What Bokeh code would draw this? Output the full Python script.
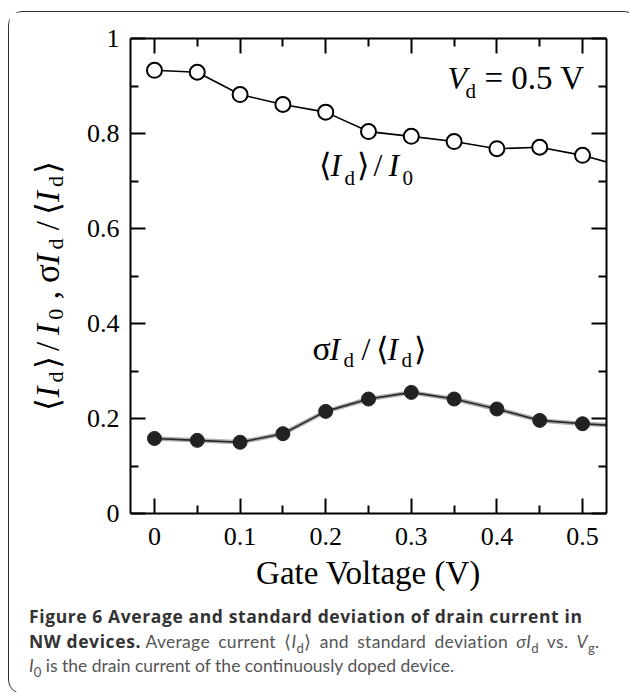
import math
from bokeh.plotting import figure
from bokeh.models import Range1d, FixedTicker, LinearAxis, Label, Div
from bokeh.layouts import column, row
from bokeh.embed import file_html
from bokeh.resources import INLINE

# ---------------- data ----------------
gate_voltage = [0.00, 0.05, 0.10, 0.15, 0.20, 0.25, 0.30, 0.35, 0.40, 0.45, 0.50]
mean_over_i0 = [0.933, 0.929, 0.882, 0.861, 0.845, 0.804, 0.794, 0.783, 0.768, 0.771, 0.754]
sigma_over_mean = [0.158, 0.154, 0.150, 0.168, 0.215, 0.241, 0.255, 0.241, 0.220, 0.196, 0.189]
# the two traces continue past the right edge of the frame
gate_voltage_next = [0.55]
mean_over_i0_next = [0.729]
sigma_over_mean_next = [0.184]

x_ticks = [0.0, 0.1, 0.2, 0.3, 0.4, 0.5]
x_tick_labels = ["0", "0.1", "0.2", "0.3", "0.4", "0.5"]
x_minor = [0.05, 0.15, 0.25, 0.35, 0.45]
y_ticks = [0.0, 0.2, 0.4, 0.6, 0.8, 1.0]
y_tick_labels = ["0", "0.2", "0.4", "0.6", "0.8", "1"]
y_minor = [0.1, 0.3, 0.5, 0.7, 0.9]

x_title = "Gate Voltage (V)"

# ---------------- layout constants (page pixels) ----------------
X0, X1 = -0.028, 0.528
Y0, Y1 = 0.0, 1.0
FRAME_L, FRAME_R, FRAME_T, FRAME_B = 130, 606, 38, 513
ORIGIN_X, ORIGIN_Y = 9, 12          # top-left of content inside the rounded box
YLAB_W = 70
MAIN_W, MAIN_H = 548, 593
SERIF = "Liberation Serif"

# ---------------- main plot ----------------
main_left = ORIGIN_X + YLAB_W
p = figure(width=MAIN_W, height=MAIN_H, x_range=Range1d(X0, X1), y_range=Range1d(Y0, Y1),
           output_backend="svg", toolbar_location=None,
           min_border_left=FRAME_L - main_left,
           min_border_right=main_left + MAIN_W - FRAME_R,
           min_border_top=FRAME_T - ORIGIN_Y,
           min_border_bottom=MAIN_H - (FRAME_B - ORIGIN_Y))
p.xgrid.visible = False
p.ygrid.visible = False
p.outline_line_color = None
p.background_fill_color = "white"
p.border_fill_color = "white"

p.add_layout(LinearAxis(), "above")
p.add_layout(LinearAxis(), "right")

for ax in p.xaxis:
    ax.ticker = FixedTicker(ticks=x_ticks, minor_ticks=x_minor)
    ax.major_label_overrides = {t: s for t, s in zip(x_ticks, x_tick_labels)}
for ax in p.yaxis:
    ax.ticker = FixedTicker(ticks=y_ticks, minor_ticks=y_minor)
    ax.major_label_overrides = {t: s for t, s in zip(y_ticks, y_tick_labels)}

for ax in list(p.xaxis) + list(p.yaxis):
    ax.axis_line_width = 2
    ax.axis_line_color = "black"
    ax.major_tick_in = 15
    ax.major_tick_out = 0
    ax.minor_tick_in = 8
    ax.minor_tick_out = 0
    ax.major_tick_line_width = 2
    ax.minor_tick_line_width = 2
    ax.major_tick_line_color = "black"
    ax.minor_tick_line_color = "black"
    ax.major_label_text_font = SERIF
    ax.major_label_text_font_size = "26px"
    ax.major_label_text_color = "black"

# mirrored axes: ticks only
for ax in (p.above[0], p.right[0]):
    ticks = x_ticks if ax in p.above else y_ticks
    ax.major_label_overrides = {t: "" for t in ticks}
    ax.major_label_text_font_size = "1px"
    ax.major_label_standoff = 0

bottom = p.below[0]
bottom.major_label_standoff = 14
bottom.axis_label = x_title
bottom.axis_label_text_font = SERIF
bottom.axis_label_text_font_size = "33px"
bottom.axis_label_text_font_style = "normal"
bottom.axis_label_text_color = "black"
bottom.axis_label_standoff = 7
p.left[0].major_label_standoff = 11

# ---------------- series ----------------
line_x = gate_voltage + gate_voltage_next
p.line(line_x, mean_over_i0 + mean_over_i0_next, line_color="black", line_width=1.6)
p.line(line_x, sigma_over_mean + sigma_over_mean_next, line_color="#9a9a9a", line_width=4.5, line_alpha=0.8)
p.line(line_x, sigma_over_mean + sigma_over_mean_next, line_color="#262626", line_width=1.6)

p.scatter(gate_voltage, mean_over_i0, marker="circle", size=15,
          fill_color="white", line_color="black", line_width=2)
p.scatter(gate_voltage, sigma_over_mean, marker="circle", size=14,
          fill_color="#222222", line_color="#222222", line_width=1)

# ---------------- rich text helpers ----------------
def dx(px):
    return X0 + (px - FRAME_L) * (X1 - X0) / (FRAME_R - FRAME_L)

def dy(py):
    return Y0 + (FRAME_B - py) * (Y1 - Y0) / (FRAME_B - FRAME_T)

def label(fig, text, x, y, size, italic=False, angle=0.0):
    fig.add_layout(Label(x=x, y=y, text=text, text_font=SERIF,
                         text_font_size=f"{size}px",
                         text_font_style="italic" if italic else "normal",
                         text_align="left", text_baseline="middle",
                         text_color="black", angle=angle))

MAIN, SUB, SIG = 32, 21, 34
MID = 0.33   # glyph centre above the baseline, in em

# (text, offset along the line, italic, subscript)
mean_label = [("⟨", 0, False, False), ("I", 12, True, False), ("d", 26, False, True),
              ("⟩", 38, False, False), ("/", 55, False, False), ("I", 70, True, False),
              ("0", 84, False, True)]
sigma_label = [("σ", 0, False, False), ("I", 17, True, False), ("d", 31, False, True),
               ("/", 49, False, False), ("⟨", 63, False, False), ("I", 75, True, False),
               ("d", 89, False, True), ("⟩", 101, False, False)]

def size_of(t, sub):
    if sub:
        return SUB
    return SIG if t == "σ" else MAIN

def rich(pieces, x_start, base_main, base_sub):
    for t, off, it, sub in pieces:
        size = size_of(t, sub)
        base = base_sub if sub else base_main
        label(p, t, dx(x_start + off), dy(base - MID * size), size, italic=it)

rich(mean_label, 318, 175, 184)
rich(sigma_label, 312, 359, 366)

# V_d = 0.5 V
label(p, "V", dx(447), dy(88 - MID * 32), 32, italic=True)
label(p, "d", dx(465), dy(97 - MID * 21), 21)
label(p, "= 0.5 V", dx(484), dy(88 - MID * 33), 33)

# ---------------- rotated y axis title (own canvas; its frame is aligned with the main frame) ----------------
ylab = figure(width=YLAB_W, height=MAIN_H,
              x_range=Range1d(ORIGIN_X, ORIGIN_X + YLAB_W),
              y_range=Range1d(FRAME_B, FRAME_T),
              output_backend="svg", toolbar_location=None,
              x_axis_type=None, y_axis_type=None, min_border=0)
ylab.outline_line_color = None
ylab.xgrid.visible = False
ylab.ygrid.visible = False
ylab.background_fill_color = "white"
ylab.border_fill_color = "white"

s = 1.08
y_start = 410
ytitle = mean_label + [(",", 103, False, False)] + \
    [(t, off + 118, it, sb) for t, off, it, sb in sigma_label]
for t, off, it, sub in ytitle:
    label(ylab, t, 55 if sub else 47, y_start - off * s, size_of(t, sub) + 1, italic=it,
          angle=math.pi / 2)

# ---------------- caption ----------------
SUBS = 'style="font-size:0.75em;line-height:0;"'
caption_html = (
    '<div style="font-family:Lato, sans-serif; font-size:17.5px; line-height:24px; '
    'color:#555555; white-space:nowrap; padding:0 0 0 15px; margin-top:-6px;">'
    '<span style="font-family:\'Open Sans\', sans-serif; font-weight:bold; font-size:17.5px; '
    'letter-spacing:0.6px; color:#333333;">'
    'Figure 6 Average and standard deviation of drain current in<br>NW devices.</span> '
    '<span style="word-spacing:3.5px; letter-spacing:0.3px;">'
    f'Average current ⟨<i>I</i><sub {SUBS}>d</sub>⟩ '
    f'and standard deviation <i>σI</i><sub {SUBS}>d</sub> vs. '
    f'<i>V</i><sub {SUBS}>g</sub>.</span><br>'
    f'<i>I</i><sub {SUBS}>0</sub> is the drain current of the '
    'continuously doped device.</div>'
)
caption = Div(text=caption_html, width=YLAB_W + MAIN_W, height=78)

layout = column(row(ylab, p), caption, margin=(11, 0, 0, 8),
                styles={"border": "1px solid #2e2e2e", "border-radius": "14px",
                        "background-color": "white"})

open("out.html", "w").write(file_html(layout, INLINE))
